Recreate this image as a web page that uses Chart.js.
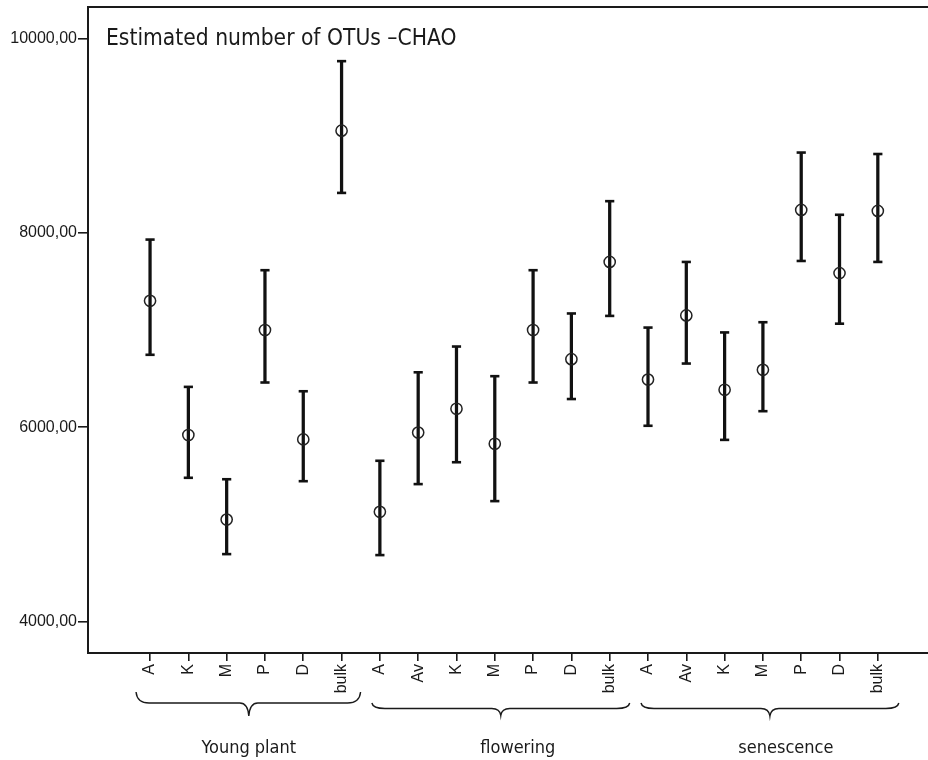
<!DOCTYPE html>
<html>
<head>
<meta charset="utf-8">
<title>Estimated number of OTUs - CHAO</title>
<script src="https://cdn.jsdelivr.net/npm/chart.js@4.4.1/dist/chart.umd.min.js"></script>
<style>
  html, body { margin: 0; padding: 0; background: #fff; }
  #wrap { width: 928px; height: 760px; }
</style>
</head>
<body>
<div id="wrap"><canvas id="canvas" width="928" height="760"></canvas></div>
<script>
// samples along the x axis
const categories = ['A', 'K', 'M', 'P', 'D', 'bulk',
                    'A', 'Av', 'K', 'M', 'P', 'D', 'bulk',
                    'A', 'Av', 'K', 'M', 'P', 'D', 'bulk'];

// estimated means and error bar limits
const means = [7300, 5920, 5050, 7000, 5875, 9050,
               5130, 5945, 6190, 5830, 7000, 6700, 7700,
               6490, 7150, 6385, 6590, 8235, 7585, 8225];
const lower = [6745, 5480, 4695, 6460, 5445, 8410,
               4685, 5415, 5640, 5240, 6460, 6290, 7145,
               6015, 6655, 5870, 6165, 7710, 7065, 7700];
const upper = [7930, 6415, 5465, 7615, 6370, 9765,
               5655, 6565, 6830, 6525, 7615, 7170, 8325,
               7025, 7700, 6975, 7080, 8825, 8185, 8810];

// growth stages (first and last category index of each)
const groupNames = ['Young plant', 'flowering', 'senescence'];
const groupFirst = [0, 6, 13];
const groupLast = [5, 12, 19];

const yTicks = [4000, 6000, 8000, 10000];
const chartTitle = 'Estimated number of OTUs \u2013CHAO';

const ink = '#1a1a1a';

// title in the plot, braces and stage names under the axis
const decorPlugin = {
    id: 'decor',
    afterDraw(chart) {
        const ctx = chart.ctx;
        const area = chart.chartArea;
        const x = chart.scales.x;

        ctx.save();
        // the original is cropped on the right: no right frame edge
        ctx.clearRect(chart.width - 3, area.top + 2, 3, area.bottom - area.top - 4);

        // top frame line
        ctx.strokeStyle = ink;
        ctx.lineWidth = 2;
        ctx.beginPath();
        ctx.moveTo(area.left - 1, area.top);
        ctx.lineTo(chart.width, area.top);
        ctx.stroke();

        ctx.fillStyle = ink;
        ctx.font = '22.6px "DejaVu Sans Condensed", "DejaVu Sans"';
        ctx.textBaseline = 'alphabetic';
        ctx.textAlign = 'left';
        ctx.fillText(chartTitle, area.left + 18, 45);

        // brace shapes: [padLeft, padRight, yEnds, yLine, yTip, tipShift, labelShift]
        const braces = [
            [14, 19, 692, 703, 716, 3, 3],
            [8, 20, 703, 708.5, 715.5, 6, 23],
            [7, 21, 703, 708.5, 716, 7, 23]
        ];
        ctx.lineWidth = 1.4;
        groupNames.forEach((name, g) => {
            const b = braces[g];
            const x0 = x.getPixelForValue(groupFirst[g]) - b[0];
            const x1 = x.getPixelForValue(groupLast[g]) + b[1];
            const xc = (x.getPixelForValue(groupFirst[g]) + x.getPixelForValue(groupLast[g])) / 2 + b[5];
            const r = 13, rt = 9;
            ctx.beginPath();
            ctx.moveTo(x0, b[2]);
            ctx.quadraticCurveTo(x0 + 1, b[3], x0 + r, b[3]);
            ctx.lineTo(xc - rt, b[3]);
            ctx.quadraticCurveTo(xc - 1, b[3], xc, b[4]);
            ctx.quadraticCurveTo(xc + 1, b[3], xc + rt, b[3]);
            ctx.lineTo(x1 - r, b[3]);
            ctx.quadraticCurveTo(x1 - 1, b[3], x1, b[2]);
            ctx.stroke();

            const xl = (x.getPixelForValue(groupFirst[g]) + x.getPixelForValue(groupLast[g])) / 2 + b[6];
            ctx.font = '18px "DejaVu Sans Condensed", "DejaVu Sans"';
            ctx.textAlign = 'center';
            ctx.fillText(name, xl, 753);
        });
        ctx.restore();
    }
};

const ctx = document.getElementById('canvas').getContext('2d');

new Chart(ctx, {
    type: 'scatter',
    data: {
        datasets: [
            {
                type: 'bar',
                data: categories.map((c, i) => ({ x: i, y: [lower[i], upper[i]] })),
                backgroundColor: '#111',
                borderWidth: 0,
                barThickness: 2.6,
                order: 3
            },
            {
                data: categories.map((c, i) => ({ x: i, y: lower[i] })),
                pointStyle: 'line',
                radius: 4.6,
                borderWidth: 2.6,
                borderColor: '#111',
                order: 2
            },
            {
                data: categories.map((c, i) => ({ x: i, y: upper[i] })),
                pointStyle: 'line',
                radius: 4.6,
                borderWidth: 2.6,
                borderColor: '#111',
                order: 2
            },
            {
                data: categories.map((c, i) => ({ x: i, y: means[i] })),
                pointStyle: 'circle',
                radius: 5.6,
                borderWidth: 1.5,
                borderColor: '#222',
                backgroundColor: 'rgba(0,0,0,0)',
                order: 1
            }
        ]
    },
    options: {
        responsive: false,
        animation: false,
        layout: { autoPadding: false, padding: { top: 7, right: 0, left: 0, bottom: 0 } },
        plugins: {
            legend: { display: false },
            tooltip: { enabled: false }
        },
        scales: {
            x: {
                type: 'linear',
                min: -1.62,
                max: 20.31,
                offset: false,
                afterFit: scale => {
                    scale.height = 107;
                    scale.paddingLeft = 0;
                    scale.paddingRight = 0;
                },
                afterBuildTicks: scale => {
                    scale.ticks = categories.map((c, i) => ({ value: i }));
                },
                grid: {
                    offset: false,
                    drawOnChartArea: false,
                    drawTicks: true,
                    tickLength: 8,
                    color: ink,
                    lineWidth: 1.6
                },
                border: { display: true, color: ink, width: 2 },
                ticks: {
                    autoSkip: false,
                    minRotation: 90,
                    maxRotation: 90,
                    padding: 3,
                    color: ink,
                    font: { family: '"Liberation Sans", Arial', size: 16 },
                    callback: v => categories[v]
                }
            },
            y: {
                type: 'linear',
                min: 3678,
                max: 10322,
                afterFit: scale => {
                    scale.width = 88;
                    scale.paddingTop = 0;
                    scale.paddingBottom = 0;
                },
                afterBuildTicks: scale => {
                    scale.ticks = yTicks.map(v => ({ value: v }));
                },
                grid: {
                    drawOnChartArea: false,
                    drawTicks: true,
                    tickLength: 10,
                    color: ink,
                    lineWidth: 1.6
                },
                border: { display: true, color: ink, width: 2 },
                ticks: {
                    padding: 1,
                    color: ink,
                    font: { family: '"Liberation Sans", Arial', size: 16 },
                    callback: v => v.toFixed(2).replace('.', ',')
                }
            }
        }
    },
    plugins: [decorPlugin]
});
</script>
</body>
</html>
